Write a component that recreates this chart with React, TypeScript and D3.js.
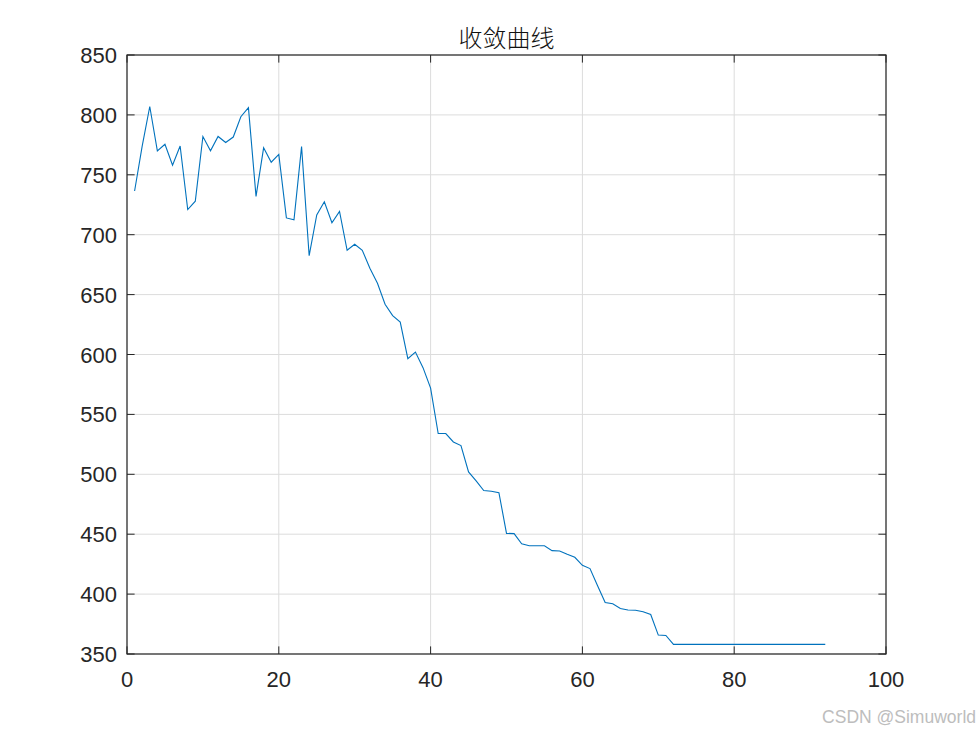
import React from "react";
import * as d3 from "d3";

const titleText = "收敛曲线";
const watermark = "CSDN @Simuworld";
const xTicks = [0, 20, 40, 60, 80, 100];
const yTicks = [350, 400, 450, 500, 550, 600, 650, 700, 750, 800, 850];
const fitness = [
  736.5, 774, 807, 770, 775.5, 758, 774, 721, 728, 782,
  770, 782, 777, 781.5, 798.5, 806, 732, 772.5, 760.5, 767,
  714, 712.5, 773.5, 682.5, 716.5, 727.5, 710, 719.5, 687, 692,
  687, 672, 659.5, 642, 632.5, 627, 596.5, 602, 589, 572,
  534, 534, 527, 524, 502, 494.5, 486.5, 485.8, 484.7, 450.7,
  450.5, 442, 440.4, 440.4, 440.4, 436.3, 436, 433.2, 430.7, 424,
  421.3, 407, 393, 392, 388, 386.7, 386.5, 385.3, 383, 365.8,
  365.5, 358, 358, 358, 358, 358, 358, 358, 358, 358,
  358, 358, 358, 358, 358, 358, 358, 358, 358, 358,
  358, 358,
];

export default function App() {
  const W = 980, H = 735;
  const L = 127, R = 886, T = 55, B = 654;
  const x = d3.scaleLinear().domain([0, 100]).range([L, R]);
  const y = d3.scaleLinear().domain([350, 850]).range([B, T]);
  const line = d3.line<number>().x((_, i) => x(i + 1)).y((d) => y(d));
  const tickLen = 7.6;
  const txt = "#262626";
  const font = "Arial, 'Liberation Sans', sans-serif";
  return (
    <svg width={W} height={H} style={{ position: "absolute", left: 0, top: 0, background: "#fff" }}>
      <rect x={0} y={0} width={W} height={H} fill="#fff" />
      {xTicks.map((t) => (
        <line key={"gx" + t} x1={x(t)} x2={x(t)} y1={T} y2={B} stroke="#dcdcdc" strokeWidth={1} />
      ))}
      {yTicks.map((t) => (
        <line key={"gy" + t} x1={L} x2={R} y1={y(t)} y2={y(t)} stroke="#dcdcdc" strokeWidth={1} />
      ))}
      <path d={line(fitness) || ""} fill="none" stroke="#0072BD" strokeWidth={1.1} />
      <rect x={L} y={T} width={R - L} height={B - T} fill="none" stroke="#262626" strokeWidth={1.2} />
      {xTicks.map((t) => (
        <g key={"tx" + t}>
          <line x1={x(t)} x2={x(t)} y1={B} y2={B - tickLen} stroke="#262626" />
          <line x1={x(t)} x2={x(t)} y1={T} y2={T + tickLen} stroke="#262626" />
          <text x={x(t)} y={687} textAnchor="middle" fontFamily={font} fontSize={22} fill={txt}>{t}</text>
        </g>
      ))}
      {yTicks.map((t) => (
        <g key={"ty" + t}>
          <line x1={L} x2={L + tickLen} y1={y(t)} y2={y(t)} stroke="#262626" />
          <line x1={R} x2={R - tickLen} y1={y(t)} y2={y(t)} stroke="#262626" />
          <text x={117} y={y(t) + 8} textAnchor="end" fontFamily={font} fontSize={22} fill={txt}>{t}</text>
        </g>
      ))}
      <text x={(L + R) / 2} y={47} textAnchor="middle" fontFamily="'Noto Sans CJK SC', sans-serif" fontSize={24} fontWeight={300} fill="#111">{titleText}</text>
      <text x={976} y={723} textAnchor="end" fontFamily={font} fontSize={17.5} fill="#bdbdbd">{watermark}</text>
    </svg>
  );
}
